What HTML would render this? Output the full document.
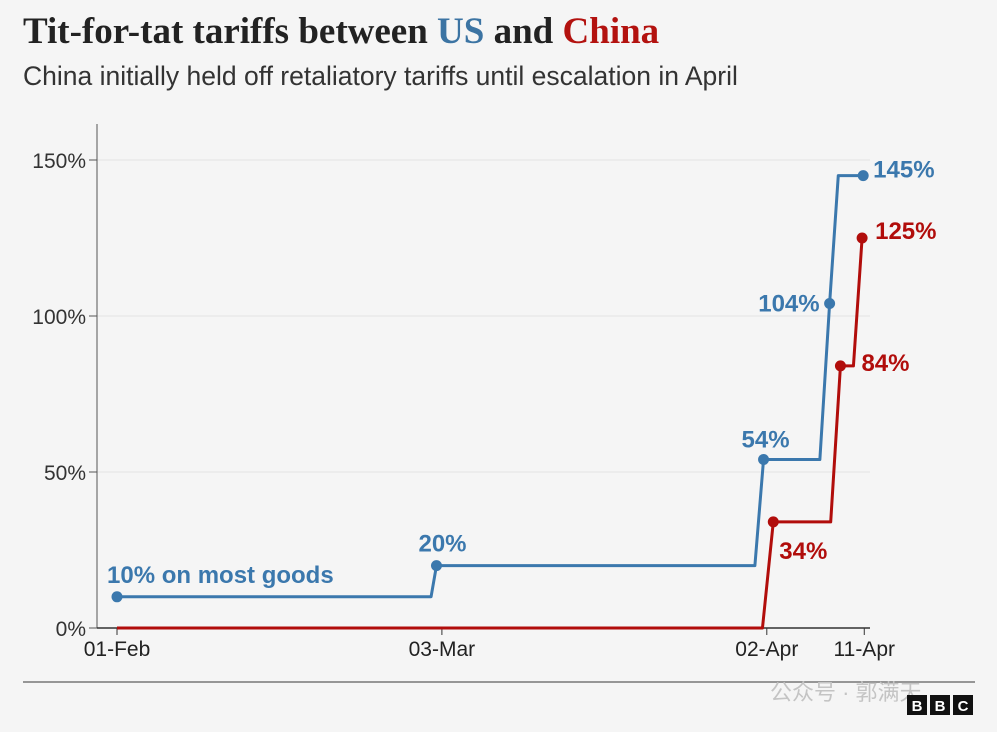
<!DOCTYPE html>
<html><head><meta charset="utf-8"><style>
body{margin:0;background:#f5f5f5;width:997px;height:732px;overflow:hidden;font-family:"Liberation Sans","Noto Sans CJK SC",sans-serif}
#title{position:absolute;left:23px;top:10px;font:bold 37px "Liberation Serif","Noto Serif CJK SC",serif;color:#222;margin:0;white-space:nowrap}
#sub{position:absolute;left:23px;top:61px;font-size:26.5px;color:#333;white-space:nowrap}
</style></head><body>
<h1 id="title">Tit-for-tat tariffs between <span style="color:#3c74a3">US</span> and <span style="color:#b3120f">China</span></h1>
<div id="sub">China initially held off retaliatory tariffs until escalation in April</div>
<svg id="chart" width="997" height="732" style="position:absolute;left:0;top:0"></svg>
<script>
const yTicks=[0,50,100,150];
const yTickLabels=["0%","50%","100%","150%"];
const xTickDays=[0,30,60,69];
const xTickLabels=["01-Feb","03-Mar","02-Apr","11-Apr"];
const usLineDays=[0,29.0,29.5,58.9,59.7,64.9,65.8,66.6,68.9];
const usLineValues=[10,10,20,20,54,54,104,145,145];
const usDotIdx=[0,2,4,6,8];
const usDotLabels=["10% on most goods","20%","54%","104%","145%"];
const cnLineDays=[0,59.6,60.6,65.9,66.8,68.0,68.8];
const cnLineValues=[0,0,34,34,84,84,125];
const cnDotIdx=[2,4,6];
const cnDotLabels=["34%","84%","125%"];
const x=d=>117+d*10.83;
const y=v=>628-v*3.12;
const svg=document.getElementById('chart');
const NS="http://www.w3.org/2000/svg";
function mk(t,a){const e=document.createElementNS(NS,t);for(const k in a)e.setAttribute(k,a[k]);svg.appendChild(e);return e;}
yTicks.forEach((v,i)=>{
 if(v>0){const g=mk('line',{x1:97,x2:870,y1:y(v),y2:y(v),stroke:'#e2e2e2','stroke-width':1});
 
 }
 const tk=mk('line',{x1:89,x2:97,y1:y(v),y2:y(v),stroke:'#555'});
 
 
 const t=mk('text',{x:86,y:y(v)+8,'text-anchor':'end','font-size':21,fill:'#333'});t.textContent=yTickLabels[i];
 
 
});
const ax=mk('line',{x1:97,x2:97,y1:124,y2:628,stroke:'#555'});


const zl=mk('line',{x1:97,x2:870,y1:628,y2:628,stroke:'#333','stroke-width':1.5});


xTickDays.forEach((d,i)=>{
 const tk=mk('line',{x1:x(d),x2:x(d),y1:628,y2:635,stroke:'#333'});
 
 
 const t=mk('text',{x:x(d),y:656,'text-anchor':'middle','font-size':21,fill:'#222'});t.textContent=xTickLabels[i];
 
 
});
function series(days,vals,idx,labels,color,name,offs){
 const p=mk('polyline',{points:days.map((d,i)=>x(d)+','+y(vals[i])).join(' '),fill:'none',stroke:color,'stroke-width':3,'stroke-linejoin':'round'});
 
 
 idx.forEach((k,j)=>{
  const c=mk('circle',{cx:x(days[k]),cy:y(vals[k]),r:5.5,fill:color});
  
  
  const o=offs[j];
  const t=mk('text',{x:x(days[k])+o[0],y:y(vals[k])+o[1],'text-anchor':o[2],'font-size':24,'font-weight':'bold',fill:color});
  t.textContent=labels[j];
  
  
 });
}
series(usLineDays,usLineValues,usDotIdx,usDotLabels,'#3b78ad','us',[[-10,-14,'start'],[-18,-14,'start'],[-22,-12,'start'],[-10,8,'end'],[10,2,'start']]);
series(cnLineDays,cnLineValues,cnDotIdx,cnDotLabels,'#b10d0b','china',[[6,37,'start'],[21,5,'start'],[13,1,'start']]);
const r=mk('line',{x1:23,x2:975,y1:682,y2:682,stroke:'#777','stroke-width':1.5});


const wm=mk('text',{x:770,y:700,'font-size':22,fill:'#c4c4c4'});wm.textContent='公众号 · 郭满天';


['B','B','C'].forEach((ch,i)=>{
 const b=mk('rect',{x:907+i*23,y:695,width:20,height:20,fill:'#111'});
 
 
 const t=mk('text',{x:917+i*23,y:711,'text-anchor':'middle','font-size':15,'font-weight':'bold',fill:'#fff'});t.textContent=ch;
 
 
});
</script>
</body></html>
